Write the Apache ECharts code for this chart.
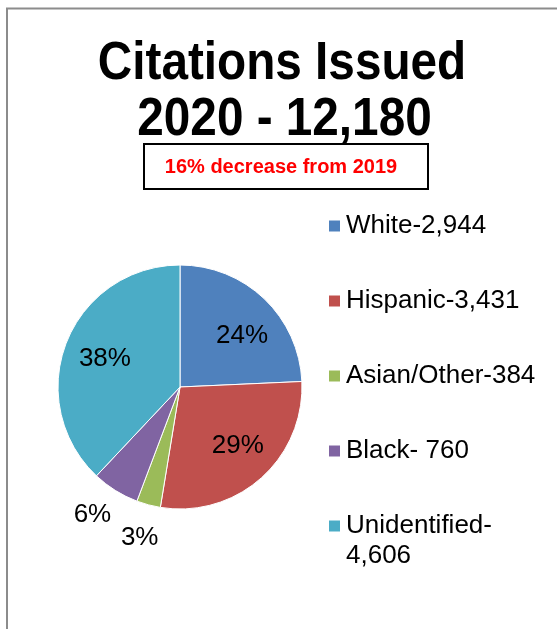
<!DOCTYPE html>
<html><head><meta charset="utf-8">
<script src="https://cdn.jsdelivr.net/npm/echarts@6/dist/echarts.min.js"></script>
<style>html,body{margin:0;padding:0;background:#fff;}#c{width:557px;height:629px;}</style>
</head><body><div id="c"></div>
<script>
const categories = ['White', 'Hispanic', 'Asian/Other', 'Black', 'Unidentified'];
const values = [2944, 3431, 384, 760, 4606];
const legendLabels = ['White-2,944', 'Hispanic-3,431', 'Asian/Other-384', 'Black- 760', 'Unidentified-\n4,606'];
const pctLabels = ['24%', '29%', '3%', '6%', '38%'];
const colors = ['#4F81BD', '#C0504D', '#9BBB59', '#8064A2', '#4BACC6'];
const titleLines = ['Citations Issued', '2020 - 12,180'];
const subtitleText = '16% decrease from 2019';
const innerLabelIdx = [0, 1, 4];
const outerLabelIdx = [2, 3];
const labelNudge = [[4, 10], [2, -4], [0, 0], [-5, -5], [3, 3]];

const FONT = "'Liberation Sans', Arial, sans-serif";
const chart = echarts.init(document.getElementById('c'), null, {renderer: 'canvas'});

const baseData = values.map((v, i) => ({name: legendLabels[i], value: v, itemStyle: {color: colors[i]}}));
function labelData(showIdx) {
  return values.map((v, i) => ({
    name: legendLabels[i], value: v,
    itemStyle: {color: 'rgba(0,0,0,0)', borderWidth: 0},
    label: {show: showIdx.indexOf(i) >= 0, offset: labelNudge[i]}
  }));
}
const labelCommon = {
  position: 'inside', color: '#000', fontSize: 26, fontFamily: FONT,
  formatter: p => pctLabels[p.dataIndex]
};

chart.setOption({
  animation: false,
  backgroundColor: '#fff',
  color: colors,
  graphic: [
    {type: 'rect', shape: {x: 7, y: 8.5, width: 640, height: 720},
     style: {fill: 'none', stroke: '#8c8c8c', lineWidth: 2}, silent: true},
    {type: 'text', x: 282, y: 64, scaleX: 0.9,
     style: {text: titleLines[0], font: "bold 53px " + FONT, fill: '#000', align: 'center', verticalAlign: 'middle'}},
    {type: 'text', x: 284.5, y: 120, scaleX: 0.9,
     style: {text: titleLines[1], font: "bold 53px " + FONT, fill: '#000', align: 'center', verticalAlign: 'middle'}},
    {type: 'rect', shape: {x: 144, y: 144, width: 284, height: 45},
     style: {fill: '#fff', stroke: '#000', lineWidth: 2}},
    {type: 'text', x: 281, y: 167,
     style: {text: subtitleText, font: "bold 20px " + FONT, fill: '#FF0000', align: 'center', verticalAlign: 'middle'}}
  ],
  legend: [
    {
      orient: 'vertical', left: 327, top: 211, padding: 0,
      itemWidth: 13, itemHeight: 13, itemGap: 45, icon: 'rect',
      data: legendLabels.slice(0, 4),
      textStyle: {fontSize: 26, lineHeight: 30, fontFamily: FONT, color: '#000'},
      selectedMode: false
    },
    {
      orient: 'vertical', left: 327, top: 481, padding: 0,
      itemWidth: 13, itemHeight: 13, icon: 'rect',
      data: legendLabels.slice(4),
      formatter: n => '\n' + n,
      textStyle: {fontSize: 26, lineHeight: 30, fontFamily: FONT, color: '#000'},
      selectedMode: false
    }
  ],
  series: [
    {
      type: 'pie', center: [180, 387], radius: [0, 122], startAngle: 90, clockwise: true,
      silent: true, avoidLabelOverlap: false,
      itemStyle: {borderColor: '#fff', borderWidth: 1},
      label: {show: false}, labelLine: {show: false},
      data: baseData
    },
    {
      type: 'pie', center: [180, 387], radius: [40, 122], startAngle: 90, clockwise: true,
      silent: true, avoidLabelOverlap: false, legendHoverLink: false,
      label: labelCommon, labelLine: {show: false},
      data: labelData(innerLabelIdx)
    },
    {
      type: 'pie', center: [180, 387], radius: [125, 181], startAngle: 90, clockwise: true,
      silent: true, avoidLabelOverlap: false, legendHoverLink: false,
      label: labelCommon, labelLine: {show: false},
      data: labelData(outerLabelIdx)
    }
  ]
});
</script>
</body></html>
